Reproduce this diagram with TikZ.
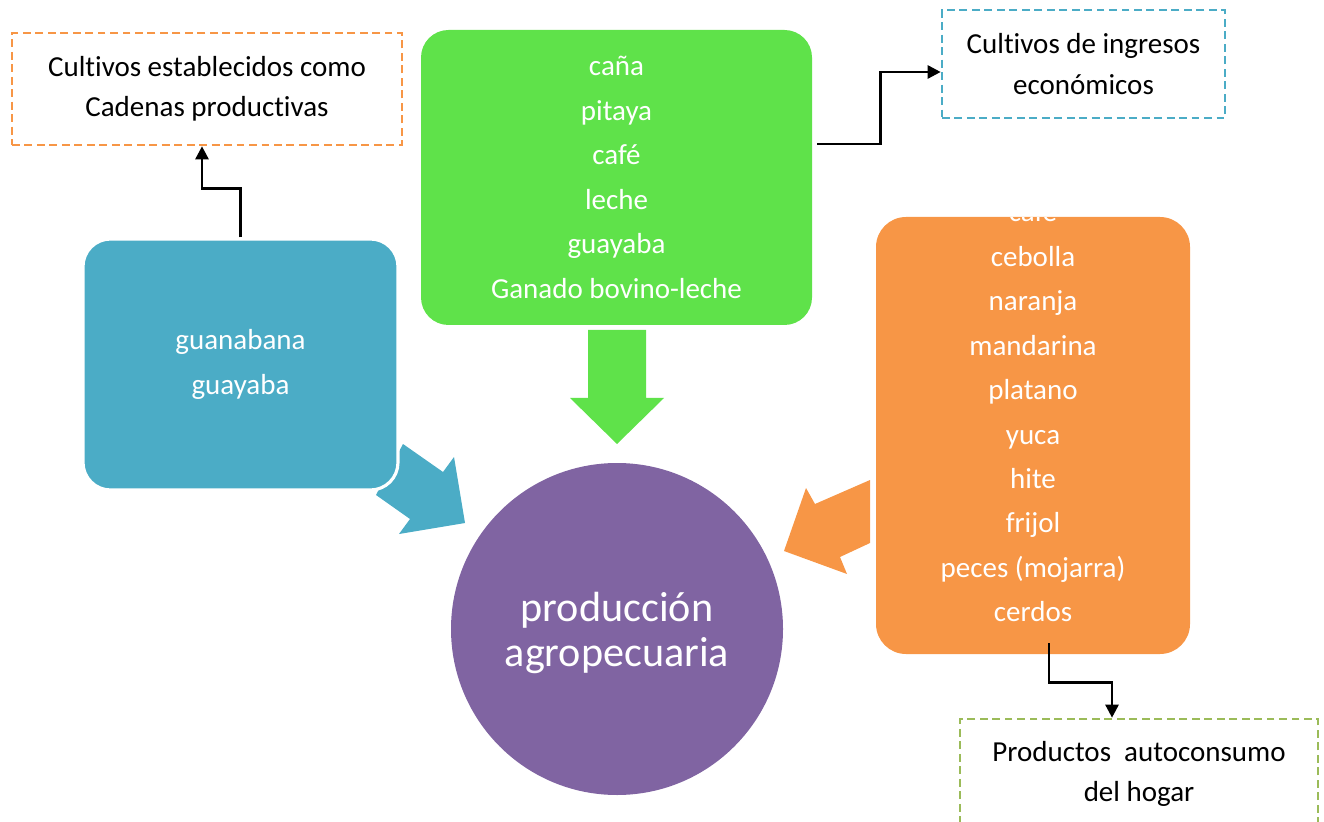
\documentclass[tikz,border=0pt]{standalone}
\usepackage{fontspec}
\setmainfont[Ligatures=NoCommon]{Carlito}
\usetikzlibrary{positioning,calc,arrows.meta}
\definecolor{azul}{HTML}{4BACC6}
\definecolor{verde}{HTML}{5FE24A}
\definecolor{naranja}{HTML}{F79646}
\definecolor{morado}{HTML}{8064A2}
\definecolor{oliva}{HTML}{9BBB59}

\begin{document}
\begin{tikzpicture}[
    caja/.style={rounded corners=0.55cm, inner sep=0pt, text=white, align=center,
      font=\fontsize{16.5}{25.3}\selectfont},
    guion/.style={draw, dash pattern=on 4.5pt off 2.6pt, line width=1.5pt, align=center,
      font=\fontsize{16.5}{23}\selectfont},
    conector/.style={line width=1.5pt, -{Triangle[length=7.5pt,width=7.5pt]}}
  ]
  \useasboundingbox (0,0) rectangle (26.48,16.42);

  % Flechas gruesas hacia la produccion
  \fill[azul] (8.06,7.54) -- (8.86,6.98) -- (9.08,7.28) -- (9.30,5.96) -- (7.98,5.74)
    -- (8.20,6.04) -- (7.52,6.52) -- cycle;
  \fill[verde] (11.76,9.82) -- (12.92,9.82) -- (12.92,8.46) -- (13.28,8.46) -- (12.34,7.54)
    -- (11.40,8.46) -- (11.76,8.46) -- cycle;
  \fill[naranja] (17.40,6.82) -- (16.30,6.34) -- (16.12,6.66) -- (15.68,5.40) -- (16.94,4.94)
    -- (16.80,5.28) -- (17.40,5.56) -- cycle;

  % Cajas de productos
  \node[caja, fill=azul, draw=white, line width=1.8pt, minimum width=6.3cm, minimum height=5.02cm]
    (frutales) at (4.81,9.13) {guanabana\\guayaba};
  \node[caja, fill=verde, minimum width=7.82cm, minimum height=5.9cm]
    (ingreso) at (12.33,12.87) {caña\\pitaya\\café\\leche\\guayaba\\Ganado bovino-leche};
  \node[caja, fill=naranja, rounded corners=0.6cm, minimum width=6.28cm, minimum height=8.74cm]
    (huerta) at (20.66,7.71) {};
  \begin{scope}
    \clip[rounded corners=0.6cm] (huerta.south west) rectangle (huerta.north east);
    \node[caja] (huertatxt) at (20.66,8.18)
      {café\\cebolla\\naranja\\mandarina\\platano\\yuca\\hite\\frijol\\peces (mojarra)\\cerdos};
  \end{scope}

  % Produccion
  \node[circle, fill=morado, minimum size=6.64cm, inner sep=0pt] (prod) at (12.34,3.84) {};
  \node[text=white, align=center, font=\fontsize{24}{26}\selectfont]
    (prodtxt) at ([yshift=-0.08cm]prod.center) {producción\\agropecuaria};

  % Destinos
  \node[guion, draw=naranja, minimum width=7.8cm, minimum height=2.24cm]
    (cadenas) at (4.14,14.64) {Cultivos establecidos como\\Cadenas productivas};
  \node[guion, draw=azul, minimum width=5.66cm, minimum height=2.16cm]
    (economicos) at (21.67,15.14) {Cultivos de ingresos\\económicos};
  \node[guion, draw=oliva, minimum width=7.16cm, minimum height=2.2cm]
    (hogar) at (22.78,0.94) {Productos~ autoconsumo\\del hogar};

  \draw[conector] (frutales.north) -- ++(0,0.98) -| ([xshift=-0.1cm]cadenas.south);
  \draw[conector] ($(ingreso.east)+(0.1,0.67)$) -- ++(1.26,0) |- ([yshift=-0.16cm]economicos.west);
  \draw[conector] ($(huerta.south)+(0.32,0.22)$) -- ++(0,-0.78) -| ([xshift=-0.54cm]hogar.north);
\end{tikzpicture}
\end{document}
